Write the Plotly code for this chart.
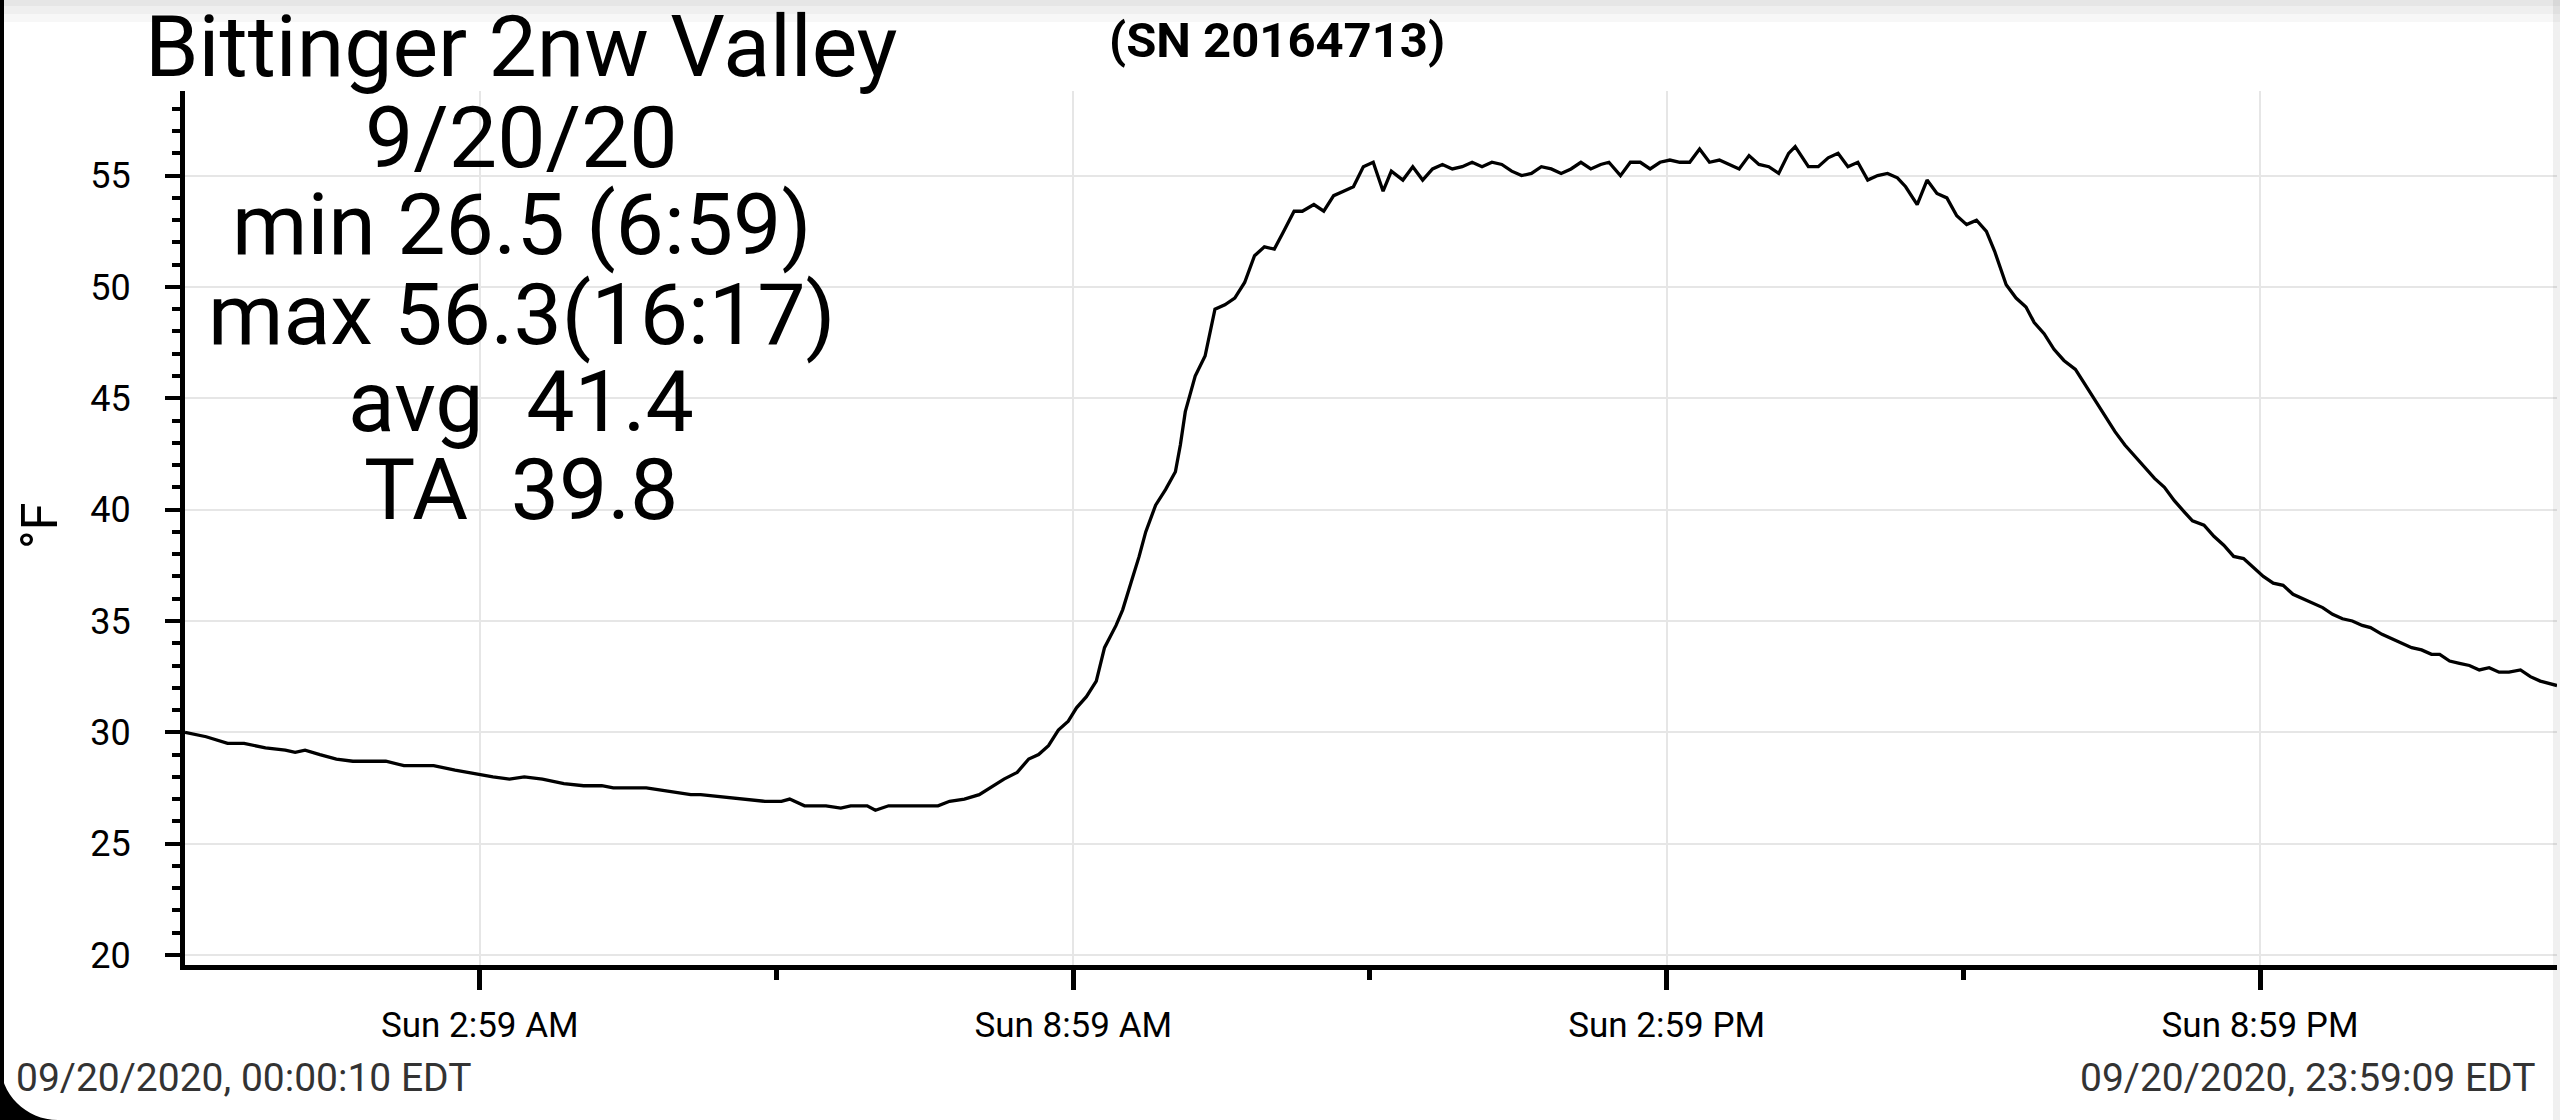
import pandas as pd
import plotly.graph_objects as go

# logger readings, 20 Sep 2020 (EDT)
DAY = "2020-09-20"
times = [
    "00:00:10", "00:13", "00:26", "00:36", "00:49", "01:01", "01:07", "01:13", "01:22", "01:32",
    "01:42", "01:49", "01:55", "02:02", "02:13", "02:31", "02:44", "02:58", "03:07", "03:17",
    "03:26", "03:37", "03:50", "04:02", "04:13", "04:20", "04:40", "04:49", "04:58", "05:07",
    "05:13", "05:26", "05:38", "05:52", "06:02", "06:07", "06:16", "06:29", "06:38", "06:44",
    "06:54", "06:59", "07:07", "07:37", "07:44", "07:53", "08:02", "08:11", "08:17", "08:25",
    "08:32", "08:38", "08:44", "08:50", "08:56", "09:01", "09:07", "09:13", "09:18", "09:25",
    "09:29", "09:34", "09:39", "09:43", "09:49", "09:55", "10:01", "10:04", "10:07", "10:10",
    "10:13", "10:19", "10:22", "10:25", "10:31", "10:37", "10:43", "10:49", "10:55", "11:01",
    "11:06", "11:13", "11:18", "11:25", "11:31", "11:37", "11:43", "11:49", "11:55", "12:01",
    "12:07", "12:12", "12:19", "12:25", "12:31", "12:37", "12:43", "12:49", "12:55", "13:01",
    "13:07", "13:13", "13:19", "13:25", "13:31", "13:37", "13:43", "13:49", "13:55", "14:01",
    "14:07", "14:13", "14:19", "14:24", "14:31", "14:37", "14:43", "14:49", "14:55", "15:01",
    "15:07", "15:13", "15:19", "15:25", "15:31", "15:37", "15:43", "15:49", "15:55", "16:01",
    "16:07", "16:13", "16:17", "16:25", "16:31", "16:37", "16:43", "16:49", "16:55", "17:01",
    "17:07", "17:13", "17:19", "17:24", "17:31", "17:37", "17:43", "17:49", "17:55", "18:01",
    "18:07", "18:13", "18:18", "18:25", "18:31", "18:37", "18:42", "18:48", "18:54", "19:00",
    "19:07", "19:13", "19:19", "19:25", "19:31", "19:37", "19:43", "19:49", "19:55", "20:01",
    "20:07", "20:13", "20:18", "20:25", "20:31", "20:37", "20:43", "20:49", "20:55", "21:01",
    "21:07", "21:13", "21:19", "21:25", "21:31", "21:37", "21:43", "21:49", "21:55", "22:01",
    "22:06", "22:13", "22:19", "22:25", "22:31", "22:37", "22:43", "22:48", "22:54", "23:00",
    "23:06", "23:12", "23:18", "23:24", "23:30", "23:37", "23:43", "23:49", "23:55", "23:59:09",
]
temps_f = [
    30.0, 29.8, 29.5, 29.5, 29.3, 29.2, 29.1, 29.2, 29.0, 28.8,
    28.7, 28.7, 28.7, 28.7, 28.5, 28.5, 28.3, 28.1, 28.0, 27.9,
    28.0, 27.9, 27.7, 27.6, 27.6, 27.5, 27.5, 27.4, 27.3, 27.2,
    27.2, 27.1, 27.0, 26.9, 26.9, 27.0, 26.7, 26.7, 26.6, 26.7,
    26.7, 26.5, 26.7, 26.7, 26.9, 27.0, 27.2, 27.6, 27.9, 28.2,
    28.8, 29.0, 29.4, 30.1, 30.5, 31.1, 31.6, 32.3, 33.8, 34.8,
    35.5, 36.7, 37.9, 39.0, 40.2, 40.9, 41.7, 42.9, 44.4, 45.2,
    46.0, 46.9, 47.9, 49.0, 49.2, 49.5, 50.2, 51.4, 51.8, 51.7,
    52.4, 53.4, 53.4, 53.7, 53.4, 54.1, 54.3, 54.5, 55.4, 55.6,
    54.3, 55.2, 54.8, 55.4, 54.8, 55.3, 55.5, 55.3, 55.4, 55.6,
    55.4, 55.6, 55.5, 55.2, 55.0, 55.1, 55.4, 55.3, 55.1, 55.3,
    55.6, 55.3, 55.5, 55.6, 55.0, 55.6, 55.6, 55.3, 55.6, 55.7,
    55.6, 55.6, 56.2, 55.6, 55.7, 55.5, 55.3, 55.9, 55.5, 55.4,
    55.1, 56.0, 56.3, 55.4, 55.4, 55.8, 56.0, 55.4, 55.6, 54.8,
    55.0, 55.1, 54.9, 54.5, 53.7, 54.8, 54.2, 54.0, 53.2, 52.8,
    53.0, 52.5, 51.6, 50.1, 49.5, 49.1, 48.4, 47.9, 47.2, 46.7,
    46.3, 45.6, 44.9, 44.2, 43.5, 42.9, 42.4, 41.9, 41.4, 41.0,
    40.4, 39.9, 39.5, 39.3, 38.8, 38.4, 37.9, 37.8, 37.4, 37.0,
    36.7, 36.6, 36.2, 36.0, 35.8, 35.6, 35.3, 35.1, 35.0, 34.8,
    34.7, 34.4, 34.2, 34.0, 33.8, 33.7, 33.5, 33.5, 33.2, 33.1,
    33.0, 32.8, 32.9, 32.7, 32.7, 32.8, 32.5, 32.3, 32.2, 32.1,
]

major_ticks = ["02:59", "08:59", "14:59", "20:59"]
major_labels = ["Sun 2:59 AM", "Sun 8:59 AM", "Sun 2:59 PM", "Sun 8:59 PM"]
minor_ticks = ["05:59", "11:59", "17:59"]

info_lines = ["Bittinger 2nw Valley", "9/20/20", "min 26.5 (6:59)",
              "max 56.3(16:17)", "avg\u00a0 41.4", "TA\u00a0 39.8"]
serial = "(SN 20164713)"
start_label = "09/20/2020, 00:00:10 EDT"
end_label = "09/20/2020, 23:59:09 EDT"

stamps = pd.to_datetime([DAY + " " + t for t in times], format="mixed")
tick_dt = lambda lst: [DAY + " " + t for t in lst]

W, H = 2560, 1120
L, R, T, B = 185, 3, 91, 155
PW, PH = W - L - R, H - T - B


def px(x):
    return (x - L) / PW


def py(y):
    return (H - B - y) / PH


FONT = "Roboto"

fig = go.Figure()
fig.add_trace(go.Scatter(x=stamps, y=temps_f, mode="lines",
                         line=dict(color="black", width=3.3), showlegend=False))

fig.update_layout(
    width=W, height=H,
    margin=dict(l=L, r=R, t=T, b=B),
    paper_bgcolor="white", plot_bgcolor="white",
    font=dict(family=FONT, color="black"),
    showlegend=False,
)

fig.update_xaxes(
    type="date",
    range=[DAY + " 00:00:10", DAY + " 23:59:09"],
    tickmode="array", tickvals=tick_dt(major_ticks), ticktext=major_labels,
    showline=True, linewidth=5, linecolor="black",
    ticks="outside", ticklen=20, tickwidth=5, tickcolor="black",
    tickfont=dict(family=FONT, size=35, color="black"),
    ticklabelstandoff=5,
    showgrid=True, gridcolor="#e6e6e6", gridwidth=2, zeroline=False,
    minor=dict(tickvals=tick_dt(minor_ticks), ticks="outside", ticklen=10,
               tickwidth=5, tickcolor="black", showgrid=False),
)

fig.update_yaxes(
    range=[19.55, 58.8], tick0=0, dtick=5,
    showline=True, linewidth=5, linecolor="black",
    ticks="outside", ticklen=15, tickwidth=4, tickcolor="black",
    tickfont=dict(family=FONT, size=36, color="black"),
    ticklabelstandoff=27,
    showgrid=True, gridcolor="#e6e6e6", gridwidth=2, zeroline=False,
    minor=dict(dtick=1, ticks="outside", ticklen=8, tickwidth=4,
               tickcolor="black", showgrid=False),
)

# stats block, one annotation per line
line_y = [47, 137, 224, 314, 401, 489]
for txt, yy in zip(info_lines, line_y):
    fig.add_annotation(text=txt, x=px(521), y=py(yy), xref="paper", yref="paper",
                       xanchor="center", yanchor="middle", showarrow=False,
                       font=dict(family=FONT, size=86, color="black"))

fig.add_annotation(text="<b>" + serial + "</b>", x=px(1277), y=py(40),
                   xref="paper", yref="paper", xanchor="center", yanchor="middle",
                   showarrow=False, font=dict(family=FONT, size=49, color="black"))

fig.add_annotation(text="°F", x=px(40), y=py(526), xref="paper", yref="paper",
                   textangle=-90, xanchor="center", yanchor="middle", showarrow=False,
                   font=dict(family=FONT, size=50, color="black"))

fig.add_annotation(text=start_label, x=px(14), y=py(1078), xref="paper", yref="paper",
                   xanchor="left", yanchor="middle", showarrow=False,
                   font=dict(family=FONT, size=39, color="#333333"))
fig.add_annotation(text=end_label, x=px(2537), y=py(1078), xref="paper", yref="paper",
                   xanchor="right", yanchor="middle", showarrow=False,
                   font=dict(family=FONT, size=39, color="#333333"))

# screen edges: top shadow, right strip, left border, rounded corner
for h, a in [(22, 0.03), (14, 0.03), (6, 0.035)]:
    fig.add_shape(type="rect", xref="paper", yref="paper", x0=px(0), x1=px(W),
                  y0=py(h), y1=py(0), fillcolor=f"rgba(0,0,0,{a})", line_width=0,
                  layer="above")
fig.add_shape(type="rect", xref="paper", yref="paper", x0=px(W - 7), x1=px(W),
              y0=py(H), y1=py(0), fillcolor="rgba(0,0,0,0.06)", line_width=0,
              layer="above")
fig.add_shape(type="rect", xref="paper", yref="paper", x0=px(0), x1=px(4),
              y0=py(H), y1=py(0), fillcolor="black", line_width=0, layer="above")
rad, k = 58, 0.5523
corner = (f"M {px(0)},{py(H - rad)} "
          f"C {px(0)},{py(H - rad + k * rad)} {px(rad - k * rad)},{py(H)} {px(rad)},{py(H)} "
          f"L {px(0)},{py(H)} Z")
fig.add_shape(type="path", xref="paper", yref="paper", path=corner,
              fillcolor="black", line_width=0, layer="above")

# drop the default page margin so the figure sits at the window corner
fig.write_html("out.html", config={"displayModeBar": False},
               post_script="document.body.style.margin='0';")
